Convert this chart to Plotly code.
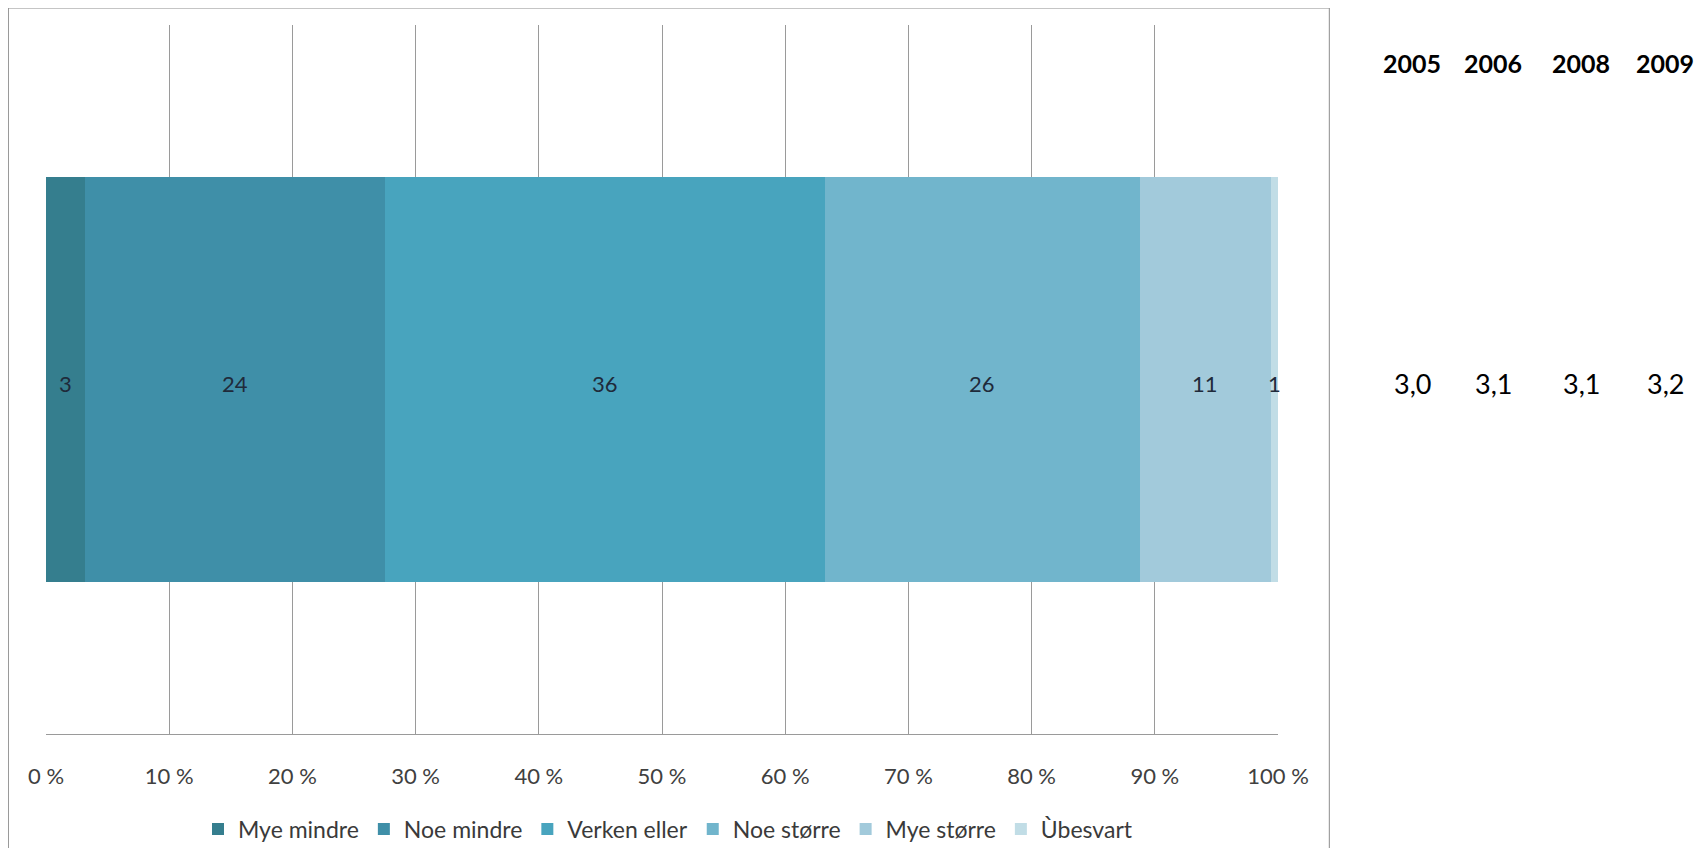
import plotly.graph_objects as go
import numpy as np

categories = ["Mye mindre", "Noe mindre", "Verken eller", "Noe større", "Mye større", "Ùbesvart"]
values = [3.2, 24.3, 35.7, 25.6, 10.6, 0.7]
labels = ["3", "24", "36", "26", "11", "1"]
colors = ["#357E8E", "#3F8FA8", "#48A4BE", "#71B5CC", "#A2CADB", "#C1DDE6"]
tick_vals = [0, 10, 20, 30, 40, 50, 60, 70, 80, 90, 100]
tick_text = ["0 %", "10 %", "20 %", "30 %", "40 %", "50 %", "60 %", "70 %", "80 %", "90 %", "100 %"]
years = ["2005", "2006", "2008", "2009"]
year_scores = ["3,0", "3,1", "3,1", "3,2"]

FONT = "Lato"
OFF = 8  # page body margin
W, H = 1704 - 2 * OFF, 856 - 2 * OFF
# plot area in page pixels
L, R, T, B = 46.3, 1277.7, 25, 734
pw, ph = R - L, B - T

def px(x):
    return (x - L) / pw

def py(y):
    return (B - y) / ph

fig = go.Figure()
for cat, v, c in zip(categories, values, colors):
    fig.add_trace(go.Bar(
        x=[v], y=[0], orientation="h", name=cat, width=0.57,
        marker=dict(color=c, line=dict(width=0)),
        hoverinfo="skip",
    ))

cum = np.cumsum(values)
mids = cum - np.array(values) / 2

annotations = []
for m, lab in zip(mids, labels):
    annotations.append(dict(
        x=m, y=0, xref="x", yref="y", text=lab, showarrow=False,
        xanchor="center", yanchor="middle", yshift=-4,
        font=dict(family=FONT, size=22, color="#1F2A3A"),
    ))

year_x = [1412, 1493, 1581, 1665]
for yr, sc, xx in zip(years, year_scores, year_x):
    annotations.append(dict(
        x=px(xx), y=py(63), xref="paper", yref="paper", text="<b>" + yr + "</b>",
        showarrow=False, xanchor="center", yanchor="middle",
        font=dict(family=FONT, size=25, color="#000000"),
    ))
    annotations.append(dict(
        x=px(xx), y=py(383), xref="paper", yref="paper", text=sc,
        showarrow=False, xanchor="center", yanchor="middle",
        font=dict(family=FONT, size=27, color="#000000"),
    ))

fig.update_layout(
    width=W, height=H,
    margin=dict(l=L - OFF, r=(W + OFF) - R, t=T - OFF, b=(H + OFF) - B, pad=0,
                autoexpand=False),
    barmode="stack",
    paper_bgcolor="white", plot_bgcolor="white",
    showlegend=True,
    legend=dict(
        orientation="h", x=px(668), y=py(829), xanchor="center", yanchor="middle",
        font=dict(family=FONT, size=23, color="#3A3A3A"),
        traceorder="normal", itemclick=False, itemdoubleclick=False,
        bgcolor="rgba(0,0,0,0)",
    ),
    xaxis=dict(
        range=[0, 100], tickvals=tick_vals, ticktext=tick_text,
        showgrid=True, gridcolor="#9A9A9A", gridwidth=1,
        zeroline=False, showline=True, linecolor="#9A9A9A", linewidth=1,
        mirror=False, ticks="", ticklabelstandoff=23, automargin=False,
        tickfont=dict(family=FONT, size=22, color="#404040"),
    ),
    yaxis=dict(
        range=[-0.5, 0.5], showticklabels=False, showgrid=False,
        zeroline=False, showline=False, ticks="", automargin=False,
    ),
    annotations=annotations,
    shapes=[dict(
        type="rect", xref="paper", yref="paper",
        x0=px(8.7), x1=px(1329), y0=py(880), y1=py(8),
        line=dict(color="#8C8C8C", width=1), fillcolor="rgba(0,0,0,0)", layer="below",
    )],
    font=dict(family=FONT),
)

fig.write_html("out.html")
